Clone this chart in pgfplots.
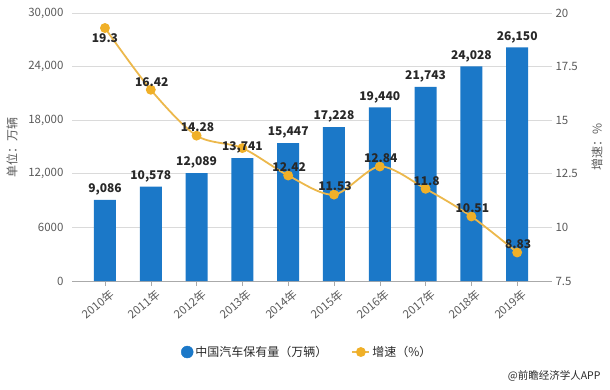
\documentclass[border=0pt]{standalone}
\usepackage{fontspec}
\setmainfont{Noto Sans CJK SC}
\usepackage{pgfplots}
\pgfplotsset{compat=1.18}
\definecolor{barblue}{RGB}{27,120,200}
\definecolor{linegold}{RGB}{236,184,76}
\definecolor{markgold}{RGB}{240,176,40}
\definecolor{txt}{RGB}{40,40,40}
\definecolor{ticktxt}{RGB}{90,90,90}
\definecolor{gridc}{RGB}{218,218,218}
\definecolor{axc}{RGB}{170,170,170}
\begin{document}
\begin{tikzpicture}
\path[use as bounding box] (0pt,0pt) rectangle (610pt,389pt);
\pgfplotsset{
  base/.style={
    at={(72pt,108pt)}, anchor=south west, scale only axis,
    width=480pt, height=268pt,
    xmin=-0.72, xmax=9.76,
    scaled y ticks=false,
    /pgf/number format/assume math mode=true,
  }
}
% bars
\begin{axis}[base,
  ymin=0, ymax=30000,
  axis x line*=bottom, axis y line*=left,
  x axis line style={draw=axc,-},
  y axis line style={draw=none},
  xtick={0,...,9},
  xticklabels={2010年,2011年,2012年,2013年,2014年,2015年,2016年,2017年,2018年,2019年},
  x tick label style={rotate=40, anchor=north east, font=\fontsize{11.5}{13}\selectfont, text=ticktxt, xshift=5pt, yshift=-1pt},
  xtick style={draw=axc}, tick align=outside, major tick length=5pt,
  ytick={0,6000,12000,18000,24000,30000},
  yticklabels={0,6000,{12,000},{18,000},{24,000},{30,000}},
  y tick label style={font=\fontsize{11.5}{13}\selectfont, text=ticktxt},
  ytick style={draw=none},
  ymajorgrids, grid style={gridc, line width=0.8pt},
  ylabel={单位：万辆},
  every axis y label/.style={at={(axis description cs:-0.125,0.5)}, rotate=90, anchor=center, font=\fontsize{12}{14}\selectfont, text=ticktxt},
]
\addplot[ybar, bar width=22pt, fill=barblue, draw=none] coordinates {
(0,9086) (1,10578) (2,12089) (3,13741) (4,15447) (5,17228) (6,19440) (7,21743) (8,24028) (9,26150)};
\end{axis}
% growth line
\begin{axis}[base,
  ymin=7.5, ymax=20,
  axis y line*=right, hide x axis,
  y axis line style={draw=none},
  ytick={7.5,10,12.5,15,17.5,20},
  yticklabels={7.5,10,12.5,15,17.5,20},
  y tick label style={font=\fontsize{11.5}{13}\selectfont, text=ticktxt},
  ytick style={draw=none},
  ylabel={增速：\%},
  every axis y label/.style={at={(axis description cs:1.094,0.5)}, rotate=90, anchor=center, font=\fontsize{12}{14}\selectfont, text=ticktxt},
  legend style={at={(axis description cs:0.49,-0.265)}, anchor=center, draw=none, fill=none,
    legend columns=2, font=\fontsize{12}{14}\selectfont, text=txt,
    /tikz/every even column/.append style={column sep=22pt}},
  legend cell align=left,
]
\addlegendimage{legend image code/.code={\fill[barblue] (0.3cm,0) circle (6pt);}}
\addlegendentry{中国汽车保有量（万辆）}
\addplot[smooth, color=linegold, line width=1.8pt, mark=*, mark size=4pt,
  mark options={fill=markgold, draw=markgold}] coordinates {
(0,19.3) (1,16.42) (2,14.28) (3,13.7) (4,12.42) (5,11.53) (6,12.84) (7,11.8) (8,10.51) (9,8.83)};
\addlegendentry{增速（\%）}
\addplot[only marks, mark=none, point meta=explicit symbolic,
  nodes near coords, nodes near coords align={below},
  every node near coord/.append style={font=\bfseries\fontsize{12}{14}\selectfont, text=txt, yshift=-2pt}, forget plot]
  coordinates {(0,19.3) [19.3]};
\addplot[only marks, mark=none, point meta=explicit symbolic,
  nodes near coords, nodes near coords align={above},
  every node near coord/.append style={font=\bfseries\fontsize{12}{14}\selectfont, text=txt, yshift=0pt, xshift=1pt}, forget plot]
  coordinates {(1,16.42) [16.42] (2,14.28) [14.28] (4,12.42) [12.42] (5,11.53) [11.53] (6,12.84) [12.84] (7,11.8) [11.8] (8,10.51) [10.51] (9,8.83) [8.83]};
\end{axis}
% bar labels on top
\begin{axis}[base, ymin=0, ymax=30000, hide axis]
\addplot[only marks, mark=none, point meta=explicit symbolic,
  nodes near coords, nodes near coords align={above},
  every node near coord/.append style={font=\bfseries\fontsize{12}{14}\selectfont, text=txt, yshift=1pt}]
  coordinates {(0,9086) [9{,}086] (1,10578) [10{,}578] (2,12089) [12{,}089] (3,13741) [13{,}741] (4,15447) [15{,}447] (5,17228) [17{,}228] (6,19440) [19{,}440] (7,21743) [21{,}743] (8,24028) [24{,}028] (9,26150) [26{,}150]};
\end{axis}
\node[anchor=south east, font=\fontsize{10.5}{12}\selectfont, text=txt] at (604pt,4pt) {@前瞻经济学人APP};
\end{tikzpicture}
\end{document}
